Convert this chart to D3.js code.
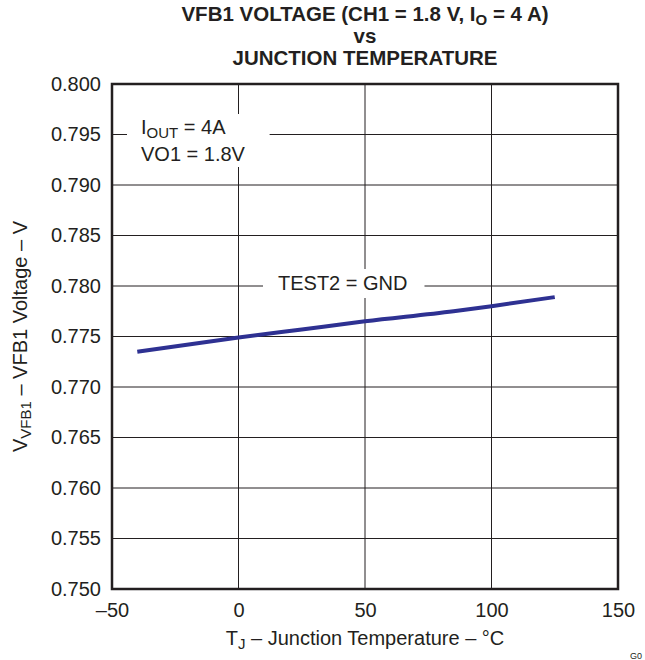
<!DOCTYPE html>
<html><head><meta charset="utf-8">
<script src="https://cdn.jsdelivr.net/npm/d3@7"></script>
<style>
body{margin:0;background:#fff}
text{font-family:"Liberation Sans",Arial,Helvetica,sans-serif;fill:#231f20}
</style>
</head><body>
<svg id="c" width="645" height="660"></svg>
<script>
// Data
const temps = [-40, 0, 25, 50, 85, 100, 125];
const vfb1 = [0.7735, 0.7749, 0.7757, 0.7765, 0.7775, 0.7780, 0.7789];
const xTicks = [-50, 0, 50, 100, 150];
const xTickLabels = ["\u201350", "0", "50", "100", "150"];
const yTicks = [0.750, 0.755, 0.760, 0.765, 0.770, 0.775, 0.780, 0.785, 0.790, 0.795, 0.800];

const W = 645, H = 660;
const m = {left: 112, right: 27, top: 84, bottom: 71};
const svg = d3.select("#c");

const x = d3.scaleLinear().domain([-50, 150]).range([m.left, W - m.right]);
const y = d3.scaleLinear().domain([0.750, 0.800]).range([H - m.bottom, m.top]);

// Gridlines
const grid = svg.append("g");
grid.selectAll("line.v").data(xTicks.slice(1, -1)).join("line")
  .attr("x1", d => x(d)).attr("x2", d => x(d))
  .attr("y1", m.top).attr("y2", H - m.bottom)
  .attr("stroke", "#231f20").attr("stroke-width", 1);
grid.selectAll("line.h").data(yTicks.slice(1, -1)).join("line")
  .attr("x1", m.left).attr("x2", W - m.right)
  .attr("y1", d => y(d)).attr("y2", d => y(d))
  .attr("stroke", "#231f20").attr("stroke-width", 1);

// Annotations with white backgrounds
function label(lines, tx, ty, lh, padL, padR, padT, padB) {
  const g = svg.append("g");
  const rect = g.append("rect").attr("fill", "#fff");
  const t = g.append("text").attr("font-size", 20);
  lines.forEach((parts, i) => {
    const line = t.append("tspan").attr("x", tx).attr("y", ty + i * lh);
    parts.forEach(p => {
      const s = t.append("tspan").text(p.t);
      if (p.sub) s.attr("font-size", 15).attr("dy", 4);
      if (p.up) s.attr("dy", -4);
      line.node().appendChild(s.node());
    });
  });
  const b = t.node().getBBox();
  rect.attr("x", b.x - padL).attr("y", b.y - padT)
    .attr("width", b.width + padL + padR).attr("height", b.height + padT + padB);
}
label([[{t: "I"}, {t: "OUT", sub: true}, {t: " = 4A", up: true}], [{t: "VO1 = 1.8V"}]],
  141, 134, 27, 14, 24, 2, 2);
label([[{t: "TEST2 = GND"}]], 278, 290, 0, 15, 17, 3, 4);

// Curve
const line = d3.line().x((d, i) => x(temps[i])).y(d => y(d)).curve(d3.curveMonotoneX);
svg.append("path").datum(vfb1).attr("d", line)
  .attr("fill", "none").attr("stroke", "#2e3192").attr("stroke-width", 4)
  .attr("stroke-linecap", "butt");

// Frame
svg.append("rect").attr("x", m.left).attr("y", m.top)
  .attr("width", W - m.left - m.right).attr("height", H - m.top - m.bottom)
  .attr("fill", "none").attr("stroke", "#231f20").attr("stroke-width", 2.5);

// Axes (labels only)
const xAxis = d3.axisBottom(x).tickValues(xTicks).tickSize(0).tickPadding(14)
  .tickFormat((d, i) => xTickLabels[i]);
const gx = svg.append("g").attr("transform", `translate(0,${H - m.bottom})`).call(xAxis);
gx.select(".domain").remove();
gx.selectAll("text").attr("font-size", 20).attr("font-family", null).attr("fill", "#231f20");

const yAxis = d3.axisLeft(y).tickValues(yTicks).tickSize(0).tickPadding(11)
  .tickFormat(d3.format(".3f"));
const gy = svg.append("g").attr("transform", `translate(${m.left},0)`).call(yAxis);
gy.select(".domain").remove();
gy.selectAll("text").attr("font-size", 20).attr("font-family", null).attr("fill", "#231f20");

// Title
const title = svg.append("text").attr("text-anchor", "middle").attr("font-weight", "bold")
  .attr("font-size", 20.5);
const cx = (m.left + W - m.right) / 2;
const l1 = title.append("tspan").attr("x", cx).attr("y", 21);
l1.append("tspan").text("VFB1 VOLTAGE (CH1 = 1.8 V, I");
l1.append("tspan").text("O").attr("font-size", 15).attr("dy", 4);
l1.append("tspan").text(" = 4 A)").attr("dy", -4);
title.append("tspan").attr("x", cx).attr("y", 43).text("vs");
title.append("tspan").attr("x", cx).attr("y", 65).text("JUNCTION TEMPERATURE");

// X axis title
const xt = svg.append("text").attr("text-anchor", "middle").attr("font-size", 20)
  .attr("x", cx).attr("y", 645);
xt.append("tspan").text("T");
xt.append("tspan").text("J").attr("font-size", 15).attr("dy", 4);
xt.append("tspan").text(" \u2013 Junction Temperature \u2013 \u00b0C").attr("dy", -4);

// Y axis title
const cy = (m.top + H - m.bottom) / 2;
const yt = svg.append("text").attr("text-anchor", "middle").attr("font-size", 20)
  .attr("transform", `translate(27,${cy}) rotate(-90)`);
yt.append("tspan").text("V");
yt.append("tspan").text("VFB1").attr("font-size", 15).attr("dy", 4);
yt.append("tspan").text(" \u2013 VFB1 Voltage \u2013 V").attr("dy", -4);

// Figure code at corner
svg.append("text").attr("x", 630).attr("y", 659).attr("font-size", 9).text("G0");
</script>
</body></html>
